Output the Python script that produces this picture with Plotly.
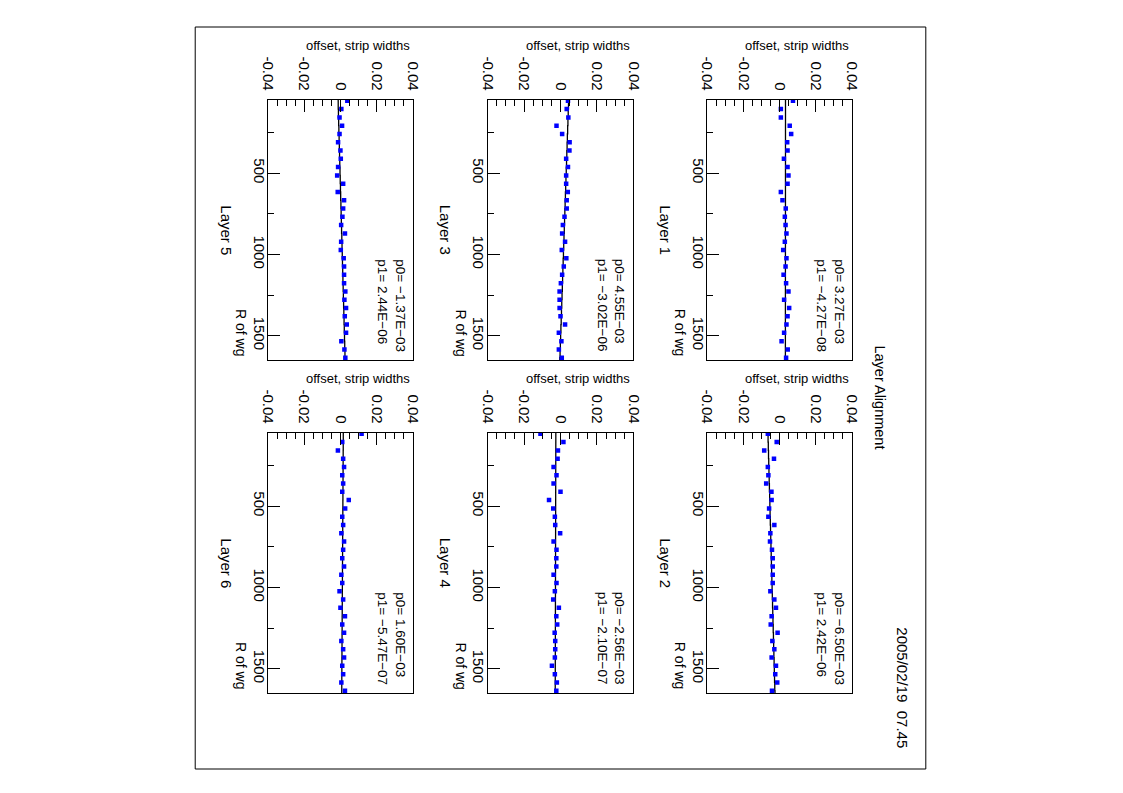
import plotly.graph_objects as go

# wire radius positions (R of wg) shared by every layer
R_WG = [55, 106, 157, 208, 259, 310, 361, 412, 463, 514, 565, 616, 667, 718, 769, 820,
        871, 922, 973, 1024, 1075, 1126, 1177, 1228, 1279, 1330, 1381, 1432, 1483, 1534, 1585, 1636]
R_RANGE = [50, 1650]

# measured offsets, strip widths
offset_l1 = [7.4e-3, 0.7e-3, 0.7e-3, 5.6e-3, 6.4e-3, 4.2e-3, 4.4e-3, 2.4e-3, 4.4e-3, 4.9e-3, 4.4e-3,
             0.7e-3, 1.6e-3, 3.4e-3, 2.9e-3, 3.3e-3, 3.8e-3, 2.9e-3, 2.0e-3, 3.8e-3, 3.3e-3, 2.2e-3,
             3.6e-3, 4.9e-3, 2.5e-3, 5.3e-3, 4.4e-3, 3.8e-3, 2.5e-3, 1.1e-3, 4.5e-3, 3.6e-3]
offset_l2 = [-6.5e-3, -1.6e-3, -8.5e-3, -3.1e-3, -6.5e-3, -6.2e-3, -7.4e-3, -4.5e-3, -4.4e-3, -5.8e-3,
             -6.2e-3, -2.9e-3, -5.1e-3, -5.3e-3, -4.2e-3, -3.8e-3, -3.8e-3, -3.8e-3, -3.8e-3, -5.1e-3,
             -2.9e-3, -2.0e-3, -4.4e-3, -4.9e-3, -1.1e-3, -4.0e-3, -2.9e-3, -4.4e-3, -2.0e-3, -2.4e-3,
             -1.3e-3, -4.2e-3]
offset_l3 = [4.1e-3, 3.4e-3, 4.3e-3, -2.2e-3, 0.9e-3, 5.0e-3, 4.9e-3, 3.1e-3, 4.1e-3, 3.1e-3, 3.1e-3,
             4.0e-3, 3.4e-3, 3.4e-3, 2.2e-3, 1.3e-3, 0.9e-3, 2.5e-3, 0.7e-3, 3.2e-3, 1.8e-3, 0.9e-3,
             0.2e-3, -0.5e-3, -0.5e-3, -0.5e-3, 0.0, 2.5e-3, -0.9e-3, 0.5e-3, -0.9e-3, 0.7e-3]
offset_l4 = [-11.0e-3, 1.6e-3, -1.4e-3, -1.6e-3, -3.8e-3, -2.2e-3, -3.8e-3, 0.0, -6.3e-3, -4.0e-3,
             -3.1e-3, -2.9e-3, -0.2e-3, -3.8e-3, -2.2e-3, -2.3e-3, -2.3e-3, -3.8e-3, -2.2e-3, -3.1e-3,
             -4.0e-3, -0.9e-3, -2.3e-3, -1.8e-3, -3.2e-3, -2.9e-3, -2.9e-3, -3.1e-3, -4.7e-3, -3.1e-3,
             -2.0e-3, -2.3e-3]
offset_l5 = [3.8e-3, 0.5e-3, -0.5e-3, 0.9e-3, -0.5e-3, -1.3e-3, 0.0, 0.2e-3, -1.3e-3, -1.8e-3, 1.5e-3,
             -1.5e-3, 2.0e-3, 1.5e-3, 1.1e-3, 0.4e-3, 2.5e-3, 0.4e-3, 0.2e-3, 1.8e-3, 2.0e-3, 2.0e-3,
             2.0e-3, 2.7e-3, 2.2e-3, 3.1e-3, 2.4e-3, 3.5e-3, 3.1e-3, 0.5e-3, 2.2e-3, 2.7e-3]
offset_l6 = [11.7e-3, 1.0e-3, -1.4e-3, 1.5e-3, 2.0e-3, 1.0e-3, 1.5e-3, 1.0e-3, 4.6e-3, 2.6e-3, 1.0e-3,
             1.5e-3, 0.5e-3, 2.0e-3, 1.5e-3, 1.0e-3, 2.0e-3, 0.5e-3, 1.0e-3, -0.5e-3, 1.5e-3, 0.0,
             2.5e-3, 1.0e-3, 2.0e-3, 0.5e-3, 1.5e-3, 2.0e-3, 1.0e-3, 1.5e-3, 0.5e-3, 2.5e-3]
OFFSETS = [offset_l1, offset_l2, offset_l3, offset_l4, offset_l5, offset_l6]

# straight-line fit parameters, offset = p0 + p1 * R
P0 = [3.27e-3, -6.50e-3, 4.55e-3, -2.56e-3, -1.37e-3, 1.60e-3]
P1 = [-4.27e-8, 2.42e-6, -3.02e-6, -2.10e-7, 2.44e-6, -5.47e-7]
P0_TEXT = ["3.27E\u221203", "\u22126.50E\u221203", "4.55E\u221203",
           "\u22122.56E\u221203", "\u22121.37E\u221203", "1.60E\u221203"]
P1_TEXT = ["\u22124.27E\u221208", "2.42E\u221206", "\u22123.02E\u221206",
           "\u22122.10E\u221207", "2.44E\u221206", "\u22125.47E\u221207"]

OFFSET_TICKS = [-0.04, -0.02, 0, 0.02, 0.04]
OFFSET_LABELS = ["-0.04", "-0.02", "0", "0.02", "0.04"]
R_TICKS = [500, 1000, 1500]

PAGE_MARGIN = 8  # body margin of the html page
# figure sized so the page needs no scrollbars in a 1123x793 window
W, H = 1123 - 2 * PAGE_MARGIN, 793 - 2 * PAGE_MARGIN
FONT = "Liberation Sans, Arial, sans-serif"

# panel frames in window pixels (left, right) per column and (top, bottom) per row
COLS = [(264, 411), (487, 635), (710, 857)]
ROWS = [(100, 360), (433, 693)]


def px(x):
    return (x - PAGE_MARGIN) / W


def py(y):
    return 1 - (y - PAGE_MARGIN) / H


fig = go.Figure()
annotations = []
layout_axes = {}

for i in range(6):
    n = i + 1
    col = 2 - i // 2
    row = i % 2
    left, right = COLS[col]
    top, bottom = ROWS[row]
    xa = "x" if n == 1 else f"x{n}"
    ya = "y" if n == 1 else f"y{n}"

    # fit line drawn as a stepped function
    fit_r = [R_RANGE[0]] + R_WG + [R_RANGE[1]]
    fit_x = [P0[i] + P1[i] * r for r in fit_r]
    fig.add_trace(go.Scatter(
        x=fit_x, y=fit_r, mode="lines", xaxis=xa, yaxis=ya,
        line=dict(color="black", width=1.3, shape="vh"),
        showlegend=False, hoverinfo="skip",
    ))
    fig.add_trace(go.Scatter(
        x=OFFSETS[i], y=R_WG, mode="markers", xaxis=xa, yaxis=ya,
        marker=dict(color="#0000ff", symbol="square", size=4.5),
        showlegend=False, cliponaxis=True,
    ))

    layout_axes["xaxis" if n == 1 else f"xaxis{n}"] = dict(
        domain=[px(left), px(right)], anchor=ya, side="top",
        range=[-0.04, 0.04], tickvals=OFFSET_TICKS, ticktext=OFFSET_LABELS,
        ticks="inside", ticklen=12, tickwidth=1, tickcolor="black", tickangle=90,
        minor=dict(dtick=0.005, tick0=0, ticks="inside", ticklen=6, tickcolor="black", tickwidth=1),
        showline=True, linecolor="black", linewidth=1.3, mirror=True,
        showgrid=False, zeroline=False, ticklabelstandoff=3,
        tickfont=dict(family=FONT, size=15, color="black"),
    )
    layout_axes["yaxis" if n == 1 else f"yaxis{n}"] = dict(
        domain=[py(bottom), py(top)], anchor=xa,
        range=[R_RANGE[1], R_RANGE[0]], tickvals=R_TICKS,
        ticks="inside", ticklen=12, tickwidth=1, tickcolor="black", tickangle=90,
        minor=dict(dtick=250, tick0=0, ticks="inside", ticklen=6, tickcolor="black", tickwidth=1),
        showline=True, linecolor="black", linewidth=1.3, mirror=True,
        showgrid=False, zeroline=False, ticklabelstandoff=-5,
        tickfont=dict(family=FONT, size=15, color="black"),
    )

    annotations += [
        dict(text="offset, strip widths", x=px(right - 1), y=py(top - 55),
             xanchor="right", yanchor="middle", font=dict(size=13)),
        dict(text=f"Layer {n}", textangle=90, x=px(left - 42), y=py((top + bottom) / 2),
             xanchor="center", yanchor="middle", font=dict(size=15)),
        dict(text="R of wg", textangle=90, x=px(left - 27), y=py(bottom - 2),
             xanchor="center", yanchor="bottom", font=dict(size=14)),
        dict(text=f"p0= {P0_TEXT[i]}<br>p1= {P1_TEXT[i]}", textangle=90, align="left",
             x=px(left + 125), y=py(top + 157), xanchor="center", yanchor="top",
             font=dict(size=13.5)),
    ]

annotations += [
    dict(text="Layer Alignment", textangle=90, x=px(885), y=py(397),
         xanchor="center", yanchor="middle", font=dict(size=14.5)),
    dict(text="2005/02/19  07.45", textangle=90, x=px(908), y=py(750),
         xanchor="center", yanchor="bottom", font=dict(size=15)),
]
for a in annotations:
    a.update(xref="paper", yref="paper", showarrow=False)
    a["font"] = dict(family=FONT, color="black", **a["font"])

fig.update_layout(
    width=W, height=H,
    margin=dict(l=0, r=0, t=0, b=0),
    paper_bgcolor="white", plot_bgcolor="white",
    annotations=annotations,
    shapes=[dict(type="rect", xref="paper", yref="paper",
                 x0=px(190), x1=px(932), y0=py(769), y1=py(27),
                 line=dict(color="black", width=1))],
    **layout_axes,
)

fig.write_html("out.html")
